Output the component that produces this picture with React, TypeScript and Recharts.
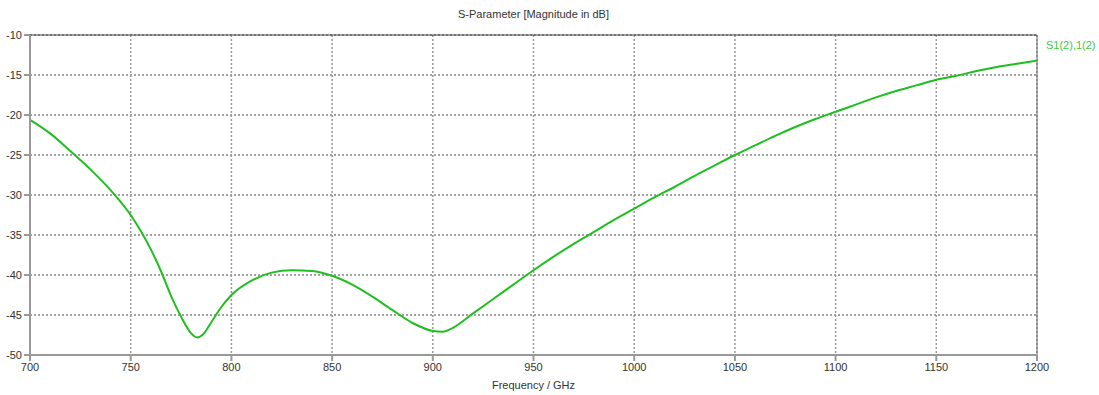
import { CartesianGrid, Line, LineChart, ReferenceLine, XAxis, YAxis } from "recharts"

// frequency samples (GHz) and S1(2),1(2) magnitude (dB)
const freqs = [
  700, 710, 720, 730, 740, 750, 755, 760, 765, 770, 775, 780, 783, 786, 790, 795, 800, 810, 820, 830,
  840, 850, 860, 870, 880, 890, 900, 905, 910, 920, 930, 940, 950, 960, 970, 980, 990, 1000, 1010,
  1020, 1030, 1040, 1050, 1060, 1070, 1080, 1090, 1100, 1110, 1120, 1130, 1140, 1150, 1160, 1170,
  1180, 1190, 1200,
]
const s21 = [
  -20.6, -22.3, -24.5, -26.8, -29.4, -32.5, -34.5, -36.8, -39.5, -42.6, -45.2, -47.3, -47.8, -47.4,
  -45.9, -44.0, -42.5, -40.7, -39.7, -39.4, -39.5, -40.1, -41.2, -42.7, -44.4, -46.0, -47.0, -47.1,
  -46.6, -44.8, -43.0, -41.2, -39.4, -37.7, -36.1, -34.6, -33.1, -31.7, -30.3, -29.0, -27.6, -26.3,
  -25.0, -23.8, -22.6, -21.5, -20.5, -19.6, -18.7, -17.8, -17.0, -16.3, -15.6, -15.1, -14.5, -14.0,
  -13.6, -13.2,
]
const xTicks = [700, 750, 800, 850, 900, 950, 1000, 1050, 1100, 1150, 1200]
const yTicks = [-50, -45, -40, -35, -30, -25, -20, -15, -10]

const data = freqs.map((f, i) => ({ f, s: s21[i] }))

const FONT = "'Liberation Sans', Arial, sans-serif"
const tickStyle = { fontSize: 11, fill: "#333", fontFamily: FONT }

export default function App() {
  return (
    <div style={{ position: "absolute", left: 0, top: 0, width: 1099, height: 395, background: "#fff" }}>
      <div
        style={{
          position: "absolute",
          left: 0,
          width: 1067,
          top: 8,
          textAlign: "center",
          fontSize: 11,
          fontFamily: FONT,
          color: "#333",
        }}
      >
        S-Parameter [Magnitude in dB]
      </div>
      <div
        style={{
          position: "absolute",
          left: 1046,
          top: 39,
          fontSize: 11,
          fontFamily: FONT,
          color: "#3ec83e",
        }}
      >
        S1(2),1(2)
      </div>
      <LineChart width={1099} height={395} data={data} margin={{ top: 35, right: 62, left: 0, bottom: 0 }}>
        <CartesianGrid vertical={false} stroke="#444" strokeDasharray="2 2" />
        <CartesianGrid horizontal={false} stroke="#999" strokeWidth={1.5} strokeDasharray="2 2" />
        <XAxis
          dataKey="f"
          type="number"
          domain={[700, 1200]}
          ticks={xTicks}
          height={40}
          tick={tickStyle}
          stroke="#999"
          strokeWidth={2}
          tickLine={{ stroke: "#999" }}
          label={{ value: "Frequency / GHz", position: "insideBottom", offset: 6, style: tickStyle }}
        />
        <YAxis
          type="number"
          domain={[-50, -10]}
          ticks={yTicks}
          width={30}
          tick={tickStyle}
          stroke="#999"
          strokeWidth={2}
          tickLine={{ stroke: "#999" }}
        />
        <ReferenceLine y={-10} stroke="#444" />
        <ReferenceLine x={1200} stroke="#666" />
        <Line
          type="monotone"
          dataKey="s"
          stroke="#1fbf1f"
          strokeWidth={2}
          dot={false}
          isAnimationActive={false}
        />
      </LineChart>
    </div>
  )
}
